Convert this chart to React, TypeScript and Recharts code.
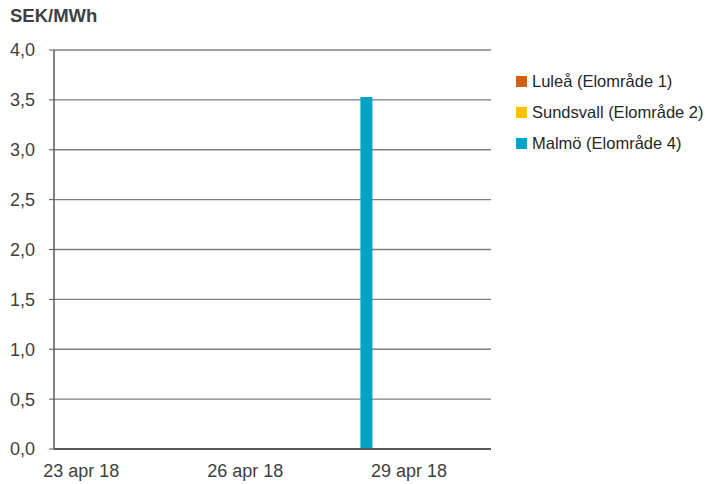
import { Bar, BarChart, CartesianGrid, Legend, XAxis, YAxis } from "recharts";

// Categories (one bar group per day)
const DATES = [
  "23 apr 18",
  "24 apr 18",
  "25 apr 18",
  "26 apr 18",
  "27 apr 18",
  "28 apr 18",
  "29 apr 18",
  "30 apr 18",
];

// Series values, SEK/MWh
const LULEA = [0, 0, 0, 0, 0, 0, 0, 0];
const SUNDSVALL = [0, 0, 0, 0, 0, 0, 0, 0];
const MALMO = [0, 0, 0, 0, 0, 3.53, 0, 0];

const Y_TICKS = [0, 0.5, 1, 1.5, 2, 2.5, 3, 3.5, 4];

const SERIES = [
  { key: "lulea", name: "Luleå (Elområde 1)", color: "#D0600C" },
  { key: "sundsvall", name: "Sundsvall (Elområde 2)", color: "#FFC000" },
  { key: "malmo", name: "Malmö (Elområde 4)", color: "#00A3C8" },
];

const data = DATES.map((date, i) => ({
  date,
  lulea: LULEA[i],
  sundsvall: SUNDSVALL[i],
  malmo: MALMO[i],
}));

const FONT = "'Liberation Sans', Arial, sans-serif";
const TEXT = "#404040";

// legend kept in series order (recharts would sort it by name)
function SeriesLegend() {
  return (
    <div style={{ fontFamily: FONT, fontSize: 16.5, color: "#262626" }}>
      {SERIES.map((s) => (
        <div key={s.key} style={{ height: 31, display: "flex", alignItems: "center" }}>
          <span style={{ width: 11, height: 11, background: s.color, marginRight: 5, display: "inline-block" }} />
          {s.name}
        </div>
      ))}
    </div>
  );
}

export default function App() {
  return (
    <div style={{ position: "absolute", left: 0, top: 0, width: 710, height: 484, background: "#fff", fontFamily: FONT }}>
      {/* unit label above the y axis */}
      <div style={{ position: "absolute", left: 10, top: 5, fontSize: 18.5, fontWeight: "bold", color: TEXT }}>
        SEK/MWh
      </div>
      <BarChart
        width={710}
        height={484}
        data={data}
        margin={{ top: 50, right: 19, left: 0, bottom: 0 }}
        barCategoryGap="17%"
        barGap={0}
      >
        <CartesianGrid vertical={false} stroke="#7f7f7f" strokeWidth={1.3} />
        <XAxis
          dataKey="date"
          interval={2}
          height={35}
          tickLine={false}
          tickSize={0}
          tickMargin={15}
          axisLine={{ stroke: "#595959", strokeWidth: 2 }}
          tick={{ fill: TEXT, fontSize: 18, fontFamily: FONT }}
        />
        <YAxis
          width={54}
          domain={[0, 4]}
          ticks={Y_TICKS}
          interval={0}
          tickSize={5}
          tickMargin={14}
          axisLine={{ stroke: "#595959", strokeWidth: 1.5 }}
          tickLine={{ stroke: "#595959" }}
          tickFormatter={(v: number) => v.toFixed(1).replace(".", ",")}
          tick={{ fill: TEXT, fontSize: 18, fontFamily: FONT }}
        />
        <Legend
          layout="vertical"
          verticalAlign="top"
          align="right"
          content={<SeriesLegend />}
          wrapperStyle={{ left: 516, top: 66, width: 200 }}
        />
        {SERIES.map((s) => (
          <Bar key={s.key} dataKey={s.key} name={s.name} fill={s.color} isAnimationActive={false} />
        ))}
      </BarChart>
    </div>
  );
}
